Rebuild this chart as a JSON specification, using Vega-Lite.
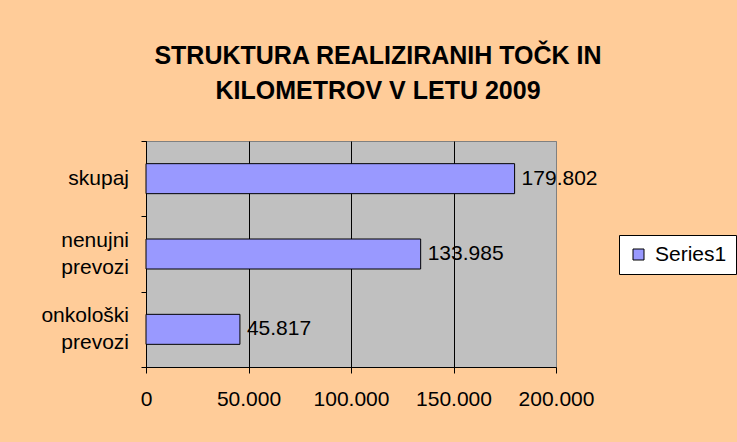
{
  "$schema": "https://vega.github.io/schema/vega-lite/v6.json",
  "autosize": {"type": "none"},
  "width": 410,
  "height": 226,
  "padding": {"left": 146, "top": 141, "right": 181, "bottom": 75},
  "background": "#FFCC99",
  "title": {
    "text": ["STRUKTURA REALIZIRANIH TOČK IN", "KILOMETROV V LETU 2009"],
    "font": "Liberation Sans",
    "fontSize": 25,
    "fontWeight": "bold",
    "color": "black",
    "lineHeight": 35,
    "anchor": "middle",
    "frame": "group",
    "dx": 27,
    "offset": 37
  },
  "data": {
    "values": [
      {"cat": "skupaj", "l1": "skupaj", "l2": null, "value": 179802, "series": "Series1"},
      {"cat": "nenujni prevozi", "l1": "nenujni", "l2": "prevozi", "value": 133985, "series": "Series1"},
      {"cat": "onkološki prevozi", "l1": "onkološki", "l2": "prevozi", "value": 45817, "series": "Series1"}
    ]
  },
  "encoding": {
    "y": {
      "field": "cat",
      "type": "nominal",
      "sort": ["skupaj", "nenujni prevozi", "onkološki prevozi"],
      "scale": {"paddingInner": 0, "paddingOuter": 0},
      "axis": {
        "title": null,
        "labels": false,
        "tickSize": 5,
        "tickColor": "black",
        "domainColor": "black",
        "tickBand": "extent",
        "grid": false
      }
    },
    "x": {
      "field": "value",
      "type": "quantitative",
      "scale": {"domain": [0, 200000]},
      "axis": {
        "title": null,
        "values": [0, 50000, 100000, 150000, 200000],
        "format": ",d",
        "labelFont": "Liberation Sans",
        "labelFontSize": 21,
        "labelColor": "black",
        "labelPadding": 15,
        "labelFlush": false,
        "tickSize": 6,
        "tickColor": "black",
        "domainColor": "black",
        "grid": true,
        "gridColor": {"condition": {"test": "datum.value >= 200000", "value": "#808080"}, "value": "black"},
        "gridOpacity": 1
      }
    }
  },
  "layer": [
    {
      "mark": {"type": "bar", "stroke": "black", "strokeWidth": 1, "size": 30},
      "encoding": {
        "color": {
          "field": "series",
          "type": "nominal",
          "scale": {"range": ["#9999FF"]},
          "legend": {
            "title": null,
            "orient": "none",
            "legendX": 473,
            "legendY": 94,
            "fillColor": "white",
            "strokeColor": "black",
            "padding": 9,
            "symbolType": "square",
            "symbolSize": 121,
            "symbolStrokeColor": "black",
            "symbolStrokeWidth": 1,
            "labelFont": "Liberation Sans",
            "labelFontSize": 21,
            "labelColor": "black",
            "labelOffset": 6
          }
        }
      }
    },
    {
      "mark": {"type": "text", "align": "left", "baseline": "middle", "dx": 7, "font": "Liberation Sans", "fontSize": 21, "color": "black"},
      "encoding": {
        "text": {"field": "value", "type": "quantitative", "format": ",d"}
      }
    },
    {
      "transform": [{"filter": "datum.l2 == null"}],
      "mark": {"type": "text", "align": "right", "baseline": "middle", "dx": -17, "font": "Liberation Sans", "fontSize": 21, "color": "black"},
      "encoding": {
        "x": {"datum": 0, "type": "quantitative"},
        "text": {"field": "l1", "type": "nominal"}
      }
    },
    {
      "transform": [{"filter": "datum.l2 != null"}],
      "mark": {"type": "text", "align": "right", "baseline": "middle", "dx": -17, "dy": -13.5, "font": "Liberation Sans", "fontSize": 21, "color": "black"},
      "encoding": {
        "x": {"datum": 0, "type": "quantitative"},
        "text": {"field": "l1", "type": "nominal"}
      }
    },
    {
      "transform": [{"filter": "datum.l2 != null"}],
      "mark": {"type": "text", "align": "right", "baseline": "middle", "dx": -17, "dy": 13.5, "font": "Liberation Sans", "fontSize": 21, "color": "black"},
      "encoding": {
        "x": {"datum": 0, "type": "quantitative"},
        "text": {"field": "l2", "type": "nominal"}
      }
    }
  ],
  "config": {
    "locale": {
      "number": {"decimal": ",", "thousands": ".", "grouping": [3], "currency": ["", " €"]}
    },
    "view": {"fill": "#C0C0C0", "stroke": "#808080", "strokeWidth": 1}
  }
}
